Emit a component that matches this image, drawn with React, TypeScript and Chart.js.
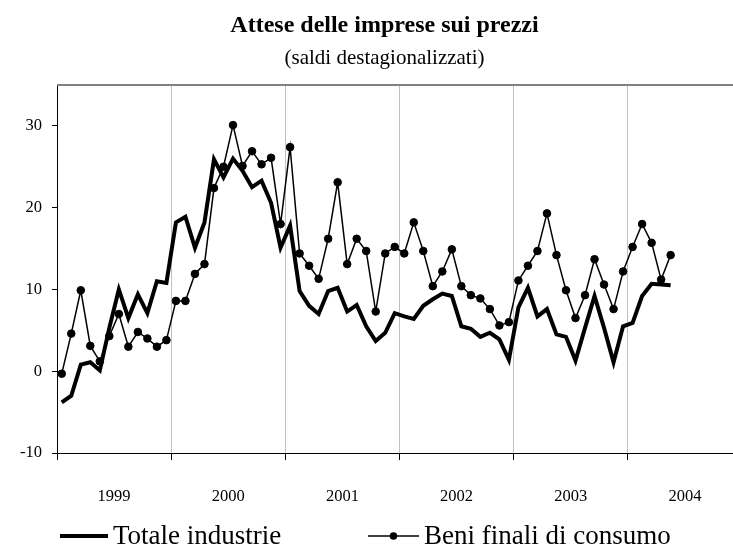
import React, { useEffect, useRef } from 'react';
import { Chart, registerables } from 'chart.js';

Chart.register(...registerables);

const FONT = "'Liberation Serif', 'Times New Roman', Times, serif";

const years = ['1999', '2000', '2001', '2002', '2003', '2004'];
const yTickValues = [-10, 0, 10, 20, 30];

// Monthly values, Jan 1999 - May 2004
const totaleIndustrie = [
  -3.8, -3.0, 0.8, 1.1, 0.1, 5.3, 10.0, 6.5, 9.4, 7.1, 11.0, 10.8,
  18.2, 18.9, 15.1, 18.2, 25.9, 23.7, 26.0, 24.5, 22.5, 23.3, 20.6, 15.1,
  17.8, 9.8, 8.0, 7.0, 9.8, 10.2, 7.3, 8.1, 5.5, 3.7, 4.7, 7.1,
  6.7, 6.4, 8.0, 8.8, 9.5, 9.2, 5.5, 5.2, 4.2, 4.7, 3.9, 1.4,
  7.8, 10.2, 6.7, 7.6, 4.5, 4.2, 1.3, 5.3, 9.2, 5.3, 1.1, 5.5,
  5.9, 9.2, 10.7, 10.6, 10.5,
];

const beniFinaliConsumo = [
  -0.3, 4.6, 9.9, 3.1, 1.2, 4.3, 7.0, 3.0, 4.8, 4.0, 3.0, 3.8,
  8.6, 8.6, 11.9, 13.1, 22.4, 25.0, 30.1, 25.1, 26.9, 25.3, 26.1, 18.0,
  27.4, 14.4, 12.9, 11.3, 16.2, 23.1, 13.1, 16.2, 14.7, 7.3, 14.4, 15.2,
  14.4, 18.2, 14.7, 10.4, 12.2, 14.9, 10.4, 9.3, 8.9, 7.6, 5.6, 6.0,
  11.1, 12.9, 14.7, 19.3, 14.2, 9.9, 6.5, 9.3, 13.7, 10.6, 7.6, 12.2,
  15.2, 18.0, 15.7, 11.2, 14.2,
];

const seriesNames = ['Totale industrie', 'Beni finali di consumo'];

// x ticks: year boundaries and mid-year label positions
const xTickValues: number[] = [];
for (let k = 0; k <= years.length; k++) {
  xTickValues.push(12 * k - 0.5);
  if (k < years.length) xTickValues.push(12 * k + 5.5);
}
const isBoundary = (v: number) => Math.abs((v + 0.5) % 12) < 1e-6;

const framePlugin = {
  id: 'topFrame',
  afterDraw(chart: any) {
    const { ctx, chartArea } = chart;
    ctx.save();
    ctx.strokeStyle = '#808080';
    ctx.lineWidth = 2;
    ctx.beginPath();
    ctx.moveTo(chartArea.left, chartArea.top);
    ctx.lineTo(chartArea.right, chartArea.top);
    ctx.stroke();
    ctx.restore();
  },
};

const legendPlugin = {
  id: 'customLegend',
  afterDraw(chart: any) {
    const { ctx } = chart;
    const ds = chart.data.datasets;
    const y = 536;
    ctx.save();
    ctx.font = `27px ${FONT}`;
    ctx.textBaseline = 'middle';
    ctx.textAlign = 'left';
    ctx.fillStyle = '#000';
    ctx.strokeStyle = '#000';
    // item 1
    ctx.lineWidth = ds[0].borderWidth;
    ctx.beginPath();
    ctx.moveTo(60, y);
    ctx.lineTo(108, y);
    ctx.stroke();
    ctx.fillText(ds[0].label, 113, y + 1);
    // item 2
    ctx.lineWidth = ds[1].borderWidth;
    ctx.beginPath();
    ctx.moveTo(368, y);
    ctx.lineTo(419, y);
    ctx.stroke();
    ctx.beginPath();
    ctx.arc(393.5, y, ds[1].pointRadius, 0, Math.PI * 2);
    ctx.fill();
    ctx.fillText(ds[1].label, 424, y + 1);
    ctx.restore();
  },
};

export default function App() {
  const canvasRef = useRef<HTMLCanvasElement | null>(null);

  useEffect(() => {
    if (!canvasRef.current) return;
    const chart = new Chart(canvasRef.current, {
      type: 'line',
      data: {
        datasets: [
          {
            label: seriesNames[0],
            data: totaleIndustrie.map((v, i) => ({ x: i, y: v })),
            borderColor: '#000',
            backgroundColor: '#000',
            borderWidth: 4,
            pointRadius: 0,
            tension: 0,
            order: 1,
          },
          {
            label: seriesNames[1],
            data: beniFinaliConsumo.map((v, i) => ({ x: i, y: v })),
            borderColor: '#000',
            backgroundColor: '#000',
            borderWidth: 1.5,
            pointRadius: 3.8,
            pointBackgroundColor: '#000',
            pointBorderColor: '#000',
            pointBorderWidth: 1,
            tension: 0,
            order: 0,
          },
        ],
      },
      options: {
        responsive: false,
        animation: false,
        devicePixelRatio: 1,
        layout: { padding: 0 },
        plugins: {
          legend: { display: false },
          tooltip: { enabled: false },
          title: {
            display: true,
            text: 'Attese delle imprese sui prezzi',
            color: '#000',
            font: { family: FONT, size: 24, weight: 'bold' },
            padding: { top: 11, bottom: 0 },
          },
          subtitle: {
            display: true,
            text: '(saldi destagionalizzati)',
            color: '#000',
            font: { family: FONT, size: 21 },
            padding: { top: 6, bottom: 14 },
          },
        },
        scales: {
          x: {
            type: 'linear',
            min: -0.5,
            max: 71.5,
            afterBuildTicks: (s: any) => {
              s.ticks = xTickValues.map((v) => ({ value: v }));
            },
            afterFit: (s: any) => {
              s.height = 100;
            },
            grid: {
              drawOnChartArea: true,
              lineWidth: 1,
              tickLength: 7,
              color: (c: any) => (c.tick && isBoundary(c.tick.value) ? '#c0c0c0' : 'rgba(0,0,0,0)'),
              tickColor: (c: any) => (c.tick && isBoundary(c.tick.value) ? '#000' : 'rgba(0,0,0,0)'),
            },
            border: { color: '#000', width: 1 },
            ticks: {
              autoSkip: false,
              maxRotation: 0,
              padding: 27,
              color: '#000',
              font: { family: FONT, size: 16.5 },
              callback: (value: any) => {
                const k = (Number(value) - 5.5) / 12;
                return Number.isInteger(k) && years[k] ? years[k] : '';
              },
            },
          },
          y: {
            type: 'linear',
            min: -10,
            max: 35,
            afterBuildTicks: (s: any) => {
              s.ticks = yTickValues.map((v) => ({ value: v }));
            },
            afterFit: (s: any) => {
              s.width = 57;
            },
            grid: { drawOnChartArea: false, tickLength: 5, tickColor: '#000' },
            border: { color: '#000', width: 1 },
            ticks: {
              padding: 10,
              color: '#000',
              font: { family: FONT, size: 16.5 },
            },
          },
        },
      },
      plugins: [framePlugin, legendPlugin],
    } as any);
    return () => chart.destroy();
  }, []);

  return (
    <div
      style={{
        position: 'absolute',
        left: 0,
        top: 0,
        width: 733,
        height: 553,
        overflow: 'hidden',
        background: '#fff',
      }}
    >
      <canvas ref={canvasRef} width={769} height={553} style={{ display: 'block' }} />
    </div>
  );
}
